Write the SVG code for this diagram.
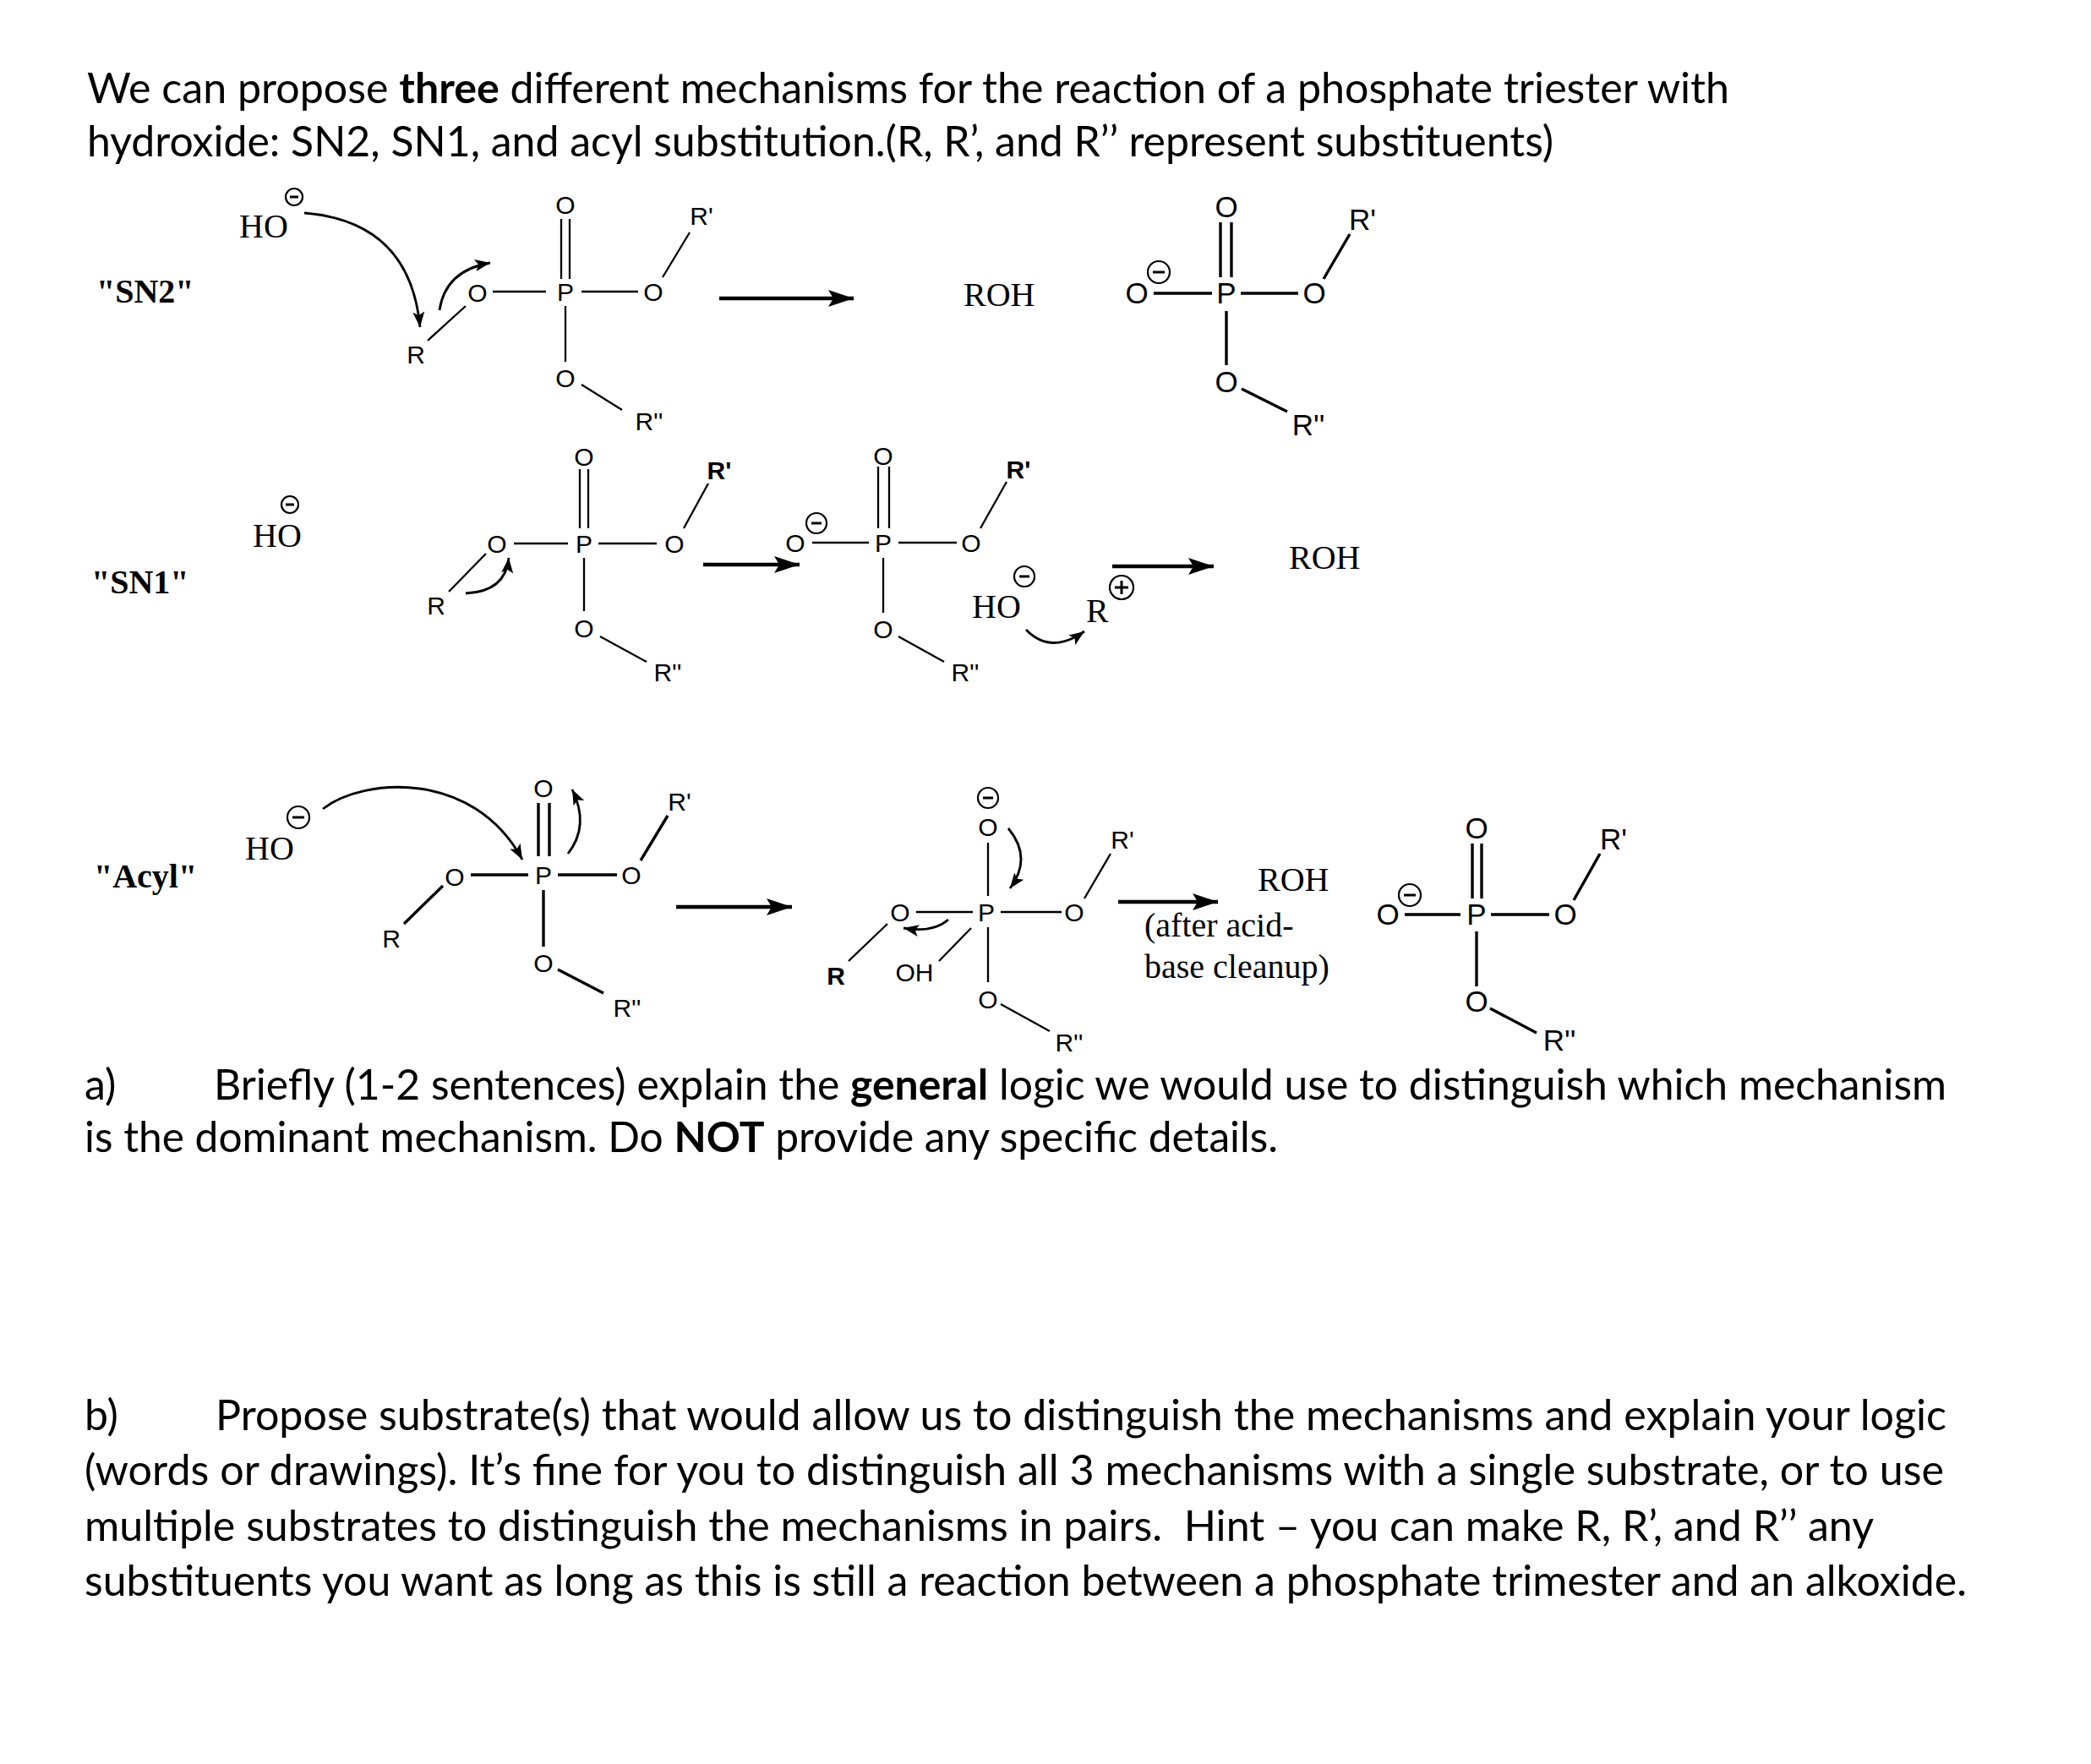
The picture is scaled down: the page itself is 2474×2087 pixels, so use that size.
<svg xmlns="http://www.w3.org/2000/svg" width="2474" height="2087" viewBox="0 0 2474 2087">
<style>
.body{font-family:Lato,"Open Sans","Liberation Sans",sans-serif;font-size:50px;fill:#000}
.b{font-weight:700}
.lbl{font-family:"Liberation Serif","Times New Roman",serif;font-size:40px;font-weight:700;fill:#000}
.tm{font-family:"Liberation Serif","Times New Roman",serif;font-size:40px;fill:#000}
.a30{font-family:"Liberation Sans",Arial,sans-serif;font-size:30px;fill:#000;text-anchor:middle}
.a35{font-family:"Liberation Sans",Arial,sans-serif;font-size:35px;fill:#000;text-anchor:middle}
.bd{stroke:#000;stroke-width:2.3;fill:none}
.bd3{stroke:#000;stroke-width:3.4;fill:none}
.chg{stroke:#000;stroke-width:2.2;fill:#fff}
.chgl{stroke:#000;stroke-width:3;fill:none}
.rx{stroke:#000;stroke-width:4.5;fill:none;marker-end:url(#ah)}
.cv{stroke:#000;stroke-width:2.8;fill:none;marker-end:url(#ch)}
</style>
<defs>
<marker id="ah" markerUnits="userSpaceOnUse" markerWidth="32" markerHeight="22" refX="30" refY="11" orient="auto"><path d="M0,1 L30,11 L0,21 L6,11 Z" fill="#000"/></marker>
<marker id="ch" markerUnits="userSpaceOnUse" markerWidth="20" markerHeight="16" refX="18" refY="8" orient="auto"><path d="M0,1 L18,8 L0,15 L4,8 Z" fill="#000"/></marker>
</defs>
<rect width="2474" height="2087" fill="#fff"/>

<g id="intro">
<text class="body" x="103" y="122" textLength="1943" lengthAdjust="spacingAndGlyphs">We can propose <tspan class="b">three</tspan> different mechanisms for the reaction of a phosphate triester with</text>
<text class="body" x="103" y="185" textLength="1735" lengthAdjust="spacingAndGlyphs">hydroxide: SN2, SN1, and acyl substitution.(R, R’, and R’’ represent substituents)</text>
</g>

<!-- SN2 row -->
<g id="sn2-label"><text class="lbl" x="114" y="358">"SN2"</text></g>
<g id="sn2-hydroxide">
<text class="tm" x="283" y="281">HO</text>
<circle class="chg" cx="348" cy="233" r="10"/><line class="chgl" x1="343" y1="233" x2="353" y2="233"/>
</g>
<g id="sn2-reactant">
<text class="a30" x="669" y="356">P</text>
<text class="a30" x="669" y="253">O</text>
<text class="a30" x="565" y="357">O</text>
<text class="a30" x="773" y="356">O</text>
<text class="a30" x="669" y="458">O</text>
<text class="a30" x="830" y="266">R'</text>
<text class="a30" x="768" y="509">R''</text>
<text class="a30" x="492" y="430">R</text>
<path class="bd" d="M583,345 H646 M688,345 H755 M664,259 V330 M674,259 V330 M669,362 V428 M784,328 L816,275 M688,455 L736,485 M506,403 L551,362"/>
</g>
<g id="sn2-roh"><text class="tm" x="1140" y="362">ROH</text></g>
<g id="sn2-product">
<text class="a35" x="1451" y="359">P</text>
<text class="a35" x="1451" y="257">O</text>
<text class="a35" x="1345" y="359">O</text>
<text class="a35" x="1555" y="359">O</text>
<text class="a35" x="1451" y="464">O</text>
<text class="a35" x="1612" y="272">R'</text>
<text class="a35" x="1548" y="515">R''</text>
<circle class="chg" cx="1371" cy="322" r="13"/><line class="chgl" x1="1364" y1="322" x2="1378" y2="322"/>
<path class="bd3" d="M1365,347 H1434 M1468,347 H1536 M1444,263 V328 M1457,263 V328 M1451,368 V432 M1566,330 L1597,277 M1469,460 L1523,487"/>
</g>

<!-- SN1 row -->
<g id="sn1-label"><text class="lbl" x="108" y="702">"SN1"</text></g>
<g id="sn1-hydroxide">
<text class="tm" x="299" y="647">HO</text>
<circle class="chg" cx="343" cy="597" r="10"/><line class="chgl" x1="338" y1="597" x2="348" y2="597"/>
</g>
<g id="sn1-reactant">
<text class="a30" x="691" y="654">P</text>
<text class="a30" x="691" y="551">O</text>
<text class="a30" x="588" y="654">O</text>
<text class="a30" x="798" y="654">O</text>
<text class="a30" x="691" y="754">O</text>
<text class="a30" x="851" y="567" font-weight="700">R'</text>
<text class="a30" x="790" y="806">R''</text>
<text class="a30" x="516" y="727">R</text>
<path class="bd" d="M608,643 H672 M708,643 H777 M686,555 V625 M696,555 V625 M691,660 V723 M809,625 L838,572 M710,753 L765,783 M531,700 L575,655"/>
</g>
<g id="sn1-phosphate">
<text class="a30" x="1045" y="653">P</text>
<text class="a30" x="1045" y="550">O</text>
<text class="a30" x="941" y="653">O</text>
<text class="a30" x="1149" y="653">O</text>
<text class="a30" x="1045" y="755">O</text>
<text class="a30" x="1205" y="566" font-weight="700">R'</text>
<text class="a30" x="1142" y="806">R''</text>
<circle class="chg" cx="966" cy="619" r="12"/><line class="chgl" x1="960" y1="619" x2="972" y2="619"/>
<path class="bd" d="M961,642 H1028 M1063,642 H1132 M1039,552 V625 M1052,552 V625 M1045,660 V725 M1160,625 L1191,570 M1063,753 L1117,783"/>
</g>
<g id="sn1-hydroxide2">
<text class="tm" x="1150" y="731">HO</text>
<circle class="chg" cx="1212" cy="682" r="12"/><line class="chgl" x1="1206" y1="682" x2="1218" y2="682"/>
</g>
<g id="sn1-cation">
<text class="tm" x="1285" y="736">R</text>
<circle class="chg" cx="1327" cy="695" r="14"/><path class="chgl" d="M1319,695 H1335 M1327,687 V703"/>
</g>
<g id="sn1-roh"><text class="tm" x="1525" y="673">ROH</text></g>

<!-- Acyl row -->
<g id="acyl-label"><text class="lbl" x="111" y="1050">"Acyl"</text></g>
<g id="acyl-hydroxide">
<text class="tm" x="290" y="1017">HO</text>
<circle class="chg" cx="353" cy="967" r="13" stroke-width="3"/><line class="chgl" x1="346" y1="967" x2="360" y2="967" stroke-width="4"/>
</g>
<g id="acyl-reactant">
<text class="a30" x="643" y="1046">P</text>
<text class="a30" x="643" y="943">O</text>
<text class="a30" x="538" y="1048">O</text>
<text class="a30" x="747" y="1046">O</text>
<text class="a30" x="643" y="1150">O</text>
<text class="a30" x="804" y="959">R'</text>
<text class="a30" x="742" y="1203">R''</text>
<text class="a30" x="463" y="1121">R</text>
<path class="bd3" d="M557,1035 H625 M660,1035 H730 M637,950 V1013 M650,950 V1013 M643,1053 V1120 M758,1018 L790,965 M660,1147 L714,1175 M478,1093 L524,1048"/>
</g>
<g id="acyl-intermediate">
<text class="a30" x="1167" y="1090">P</text>
<text class="a30" x="1169" y="989">O</text>
<text class="a30" x="1065" y="1090">O</text>
<text class="a30" x="1271" y="1090">O</text>
<text class="a30" x="1169" y="1193">O</text>
<text class="a30" x="1328" y="1004">R'</text>
<text class="a30" x="1265" y="1244">R''</text>
<text class="a30" x="989" y="1165" font-weight="700">R</text>
<text class="a30" x="1082" y="1161">OH</text>
<circle class="chg" cx="1169" cy="944" r="12"/><line class="chgl" x1="1163" y1="944" x2="1175" y2="944"/>
<path class="bd" d="M1169,997 V1060 M1084,1079 H1151 M1184,1079 H1256 M1169,1097 V1162 M1283,1063 L1314,1010 M1184,1188 L1242,1220 M1004,1137 L1050,1093 M1111,1137 L1149,1098"/>
</g>
<g id="acyl-roh">
<text class="tm" x="1488" y="1054">ROH</text>
<text class="tm" x="1354" y="1108">(after acid-</text>
<text class="tm" x="1354" y="1157">base cleanup)</text>
</g>
<g id="acyl-product">
<text class="a35" x="1747" y="1094">P</text>
<text class="a35" x="1747" y="992">O</text>
<text class="a35" x="1642" y="1094">O</text>
<text class="a35" x="1852" y="1094">O</text>
<text class="a35" x="1747" y="1197">O</text>
<text class="a35" x="1909" y="1005">R'</text>
<text class="a35" x="1845" y="1243">R''</text>
<circle class="chg" cx="1668" cy="1059" r="13"/><line class="chgl" x1="1661" y1="1059" x2="1675" y2="1059"/>
<path class="bd3" d="M1662,1082 H1728 M1764,1082 H1833 M1742,998 V1063 M1753,998 V1063 M1747,1102 V1167 M1862,1065 L1893,1010 M1763,1193 L1818,1222"/>
</g>

<g id="connectors">
<line class="rx" x1="851" y1="353" x2="1010" y2="353"/>
<line class="rx" x1="832" y1="668" x2="946" y2="668" stroke-width="3.5"/>
<line class="rx" x1="1316" y1="670" x2="1436" y2="670"/>
<line class="rx" x1="800" y1="1073" x2="937" y2="1073"/>
<line class="rx" x1="1323" y1="1067" x2="1441" y2="1067" stroke-width="3.5"/>
<path class="cv" d="M360,252 Q485,262 497,387"/>
<path class="cv" d="M520,367 Q527,320 580,311"/>
<path class="cv" d="M551,702 Q598,700 602,660"/>
<path class="cv" d="M1214,745 Q1243,775 1283,747"/>
<path class="cv" d="M382,957 C430,920 560,910 618,1017"/>
<path class="cv" d="M672,1010 Q698,977 677,934"/>
<path class="cv" d="M1193,980 Q1222,1015 1195,1051"/>
<path class="cv" d="M1122,1088 Q1104,1104 1069,1098"/>
</g>

<g id="question-a">
<text class="body" x="100" y="1301">a)</text>
<text class="body" x="253" y="1301" textLength="2050" lengthAdjust="spacingAndGlyphs">Briefly (1-2 sentences) explain the <tspan class="b">general</tspan> logic we would use to distinguish which mechanism</text>
<text class="body" x="100" y="1363" textLength="1412" lengthAdjust="spacingAndGlyphs">is the dominant mechanism. Do <tspan class="b">NOT</tspan> provide any specific details.</text>
</g>
<g id="question-b">
<text class="body" x="100" y="1692">b)</text>
<text class="body" x="255" y="1692" textLength="2048" lengthAdjust="spacingAndGlyphs">Propose substrate(s) that would allow us to distinguish the mechanisms and explain your logic</text>
<text class="body" x="100" y="1757" textLength="2200" lengthAdjust="spacingAndGlyphs">(words or drawings). It’s fine for you to distinguish all 3 mechanisms with a single substrate, or to use</text>
<text class="body" x="100" y="1823" textLength="2117" lengthAdjust="spacingAndGlyphs" xml:space="preserve">multiple substrates to distinguish the mechanisms in pairs.  Hint – you can make R, R’, and R’’ any</text>
<text class="body" x="100" y="1888" textLength="2227" lengthAdjust="spacingAndGlyphs">substituents you want as long as this is still a reaction between a phosphate trimester and an alkoxide.</text>
</g>
</svg>
